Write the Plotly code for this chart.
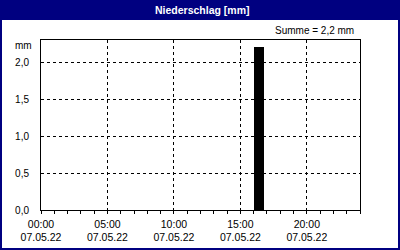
import plotly.graph_objects as go

# Data
bar_start = ["2022-05-07 16:00"]
bar_values = [2.2]
bar_width_ms = 45 * 60 * 1000
summe_text = "Summe = 2,2 mm"
title_text = "Niederschlag [mm]"
y_tickvals = [0.0, 0.5, 1.0, 1.5, 2.0]
y_ticktext = ["0,0", "0,5", "1,0", "1,5", "2,0"]
x_range = ["2022-05-07 00:00", "2022-05-08 00:00"]

W, H = 400, 250
L, R, T, B = 41, 40, 40, 40
pw, ph = W - L - R, H - T - B

def px(x):
    return (x - L) / pw

def py(y):
    return (H - B - y) / ph

NAVY = "#000080"
FONT = "Liberation Sans"

fig = go.Figure()
fig.add_trace(go.Bar(
    x=bar_start, y=bar_values, width=[bar_width_ms], offset=0,
    marker=dict(color="black", line=dict(width=0)),
    hoverinfo="skip",
))

shapes = [
    dict(type="rect", xref="paper", yref="paper", x0=px(0), x1=px(W), y0=py(0), y1=py(20),
         fillcolor=NAVY, line=dict(width=0), layer="above"),
    dict(type="rect", xref="paper", yref="paper", x0=px(0), x1=px(2), y0=py(0), y1=py(H),
         fillcolor=NAVY, line=dict(width=0), layer="above"),
    dict(type="rect", xref="paper", yref="paper", x0=px(W - 2), x1=px(W), y0=py(0), y1=py(H),
         fillcolor=NAVY, line=dict(width=0), layer="above"),
    dict(type="rect", xref="paper", yref="paper", x0=px(0), x1=px(W), y0=py(H - 2), y1=py(H),
         fillcolor=NAVY, line=dict(width=0), layer="above"),
]

annotations = [
    dict(text="<b>" + title_text + "</b>", xref="paper", yref="paper", x=px(202), y=py(10),
         xanchor="center", yanchor="middle", showarrow=False,
         font=dict(family=FONT, size=10.5, color="white")),
    dict(text=summe_text, xref="paper", yref="paper", x=px(356), y=py(30),
         xanchor="right", yanchor="middle", showarrow=False,
         font=dict(family=FONT, size=10, color="black")),
    dict(text="mm", xref="paper", yref="paper", x=px(33.5), y=py(45.5),
         xanchor="right", yanchor="middle", showarrow=False,
         font=dict(family=FONT, size=10, color="black")),
]

fig.update_layout(
    width=W, height=H,
    margin=dict(l=L, r=R, t=T, b=B, autoexpand=False),
    paper_bgcolor="white", plot_bgcolor="white",
    showlegend=False,
    shapes=shapes, annotations=annotations,
    bargap=0,
    font=dict(family=FONT, size=10, color="black"),
    xaxis=dict(
        type="date", range=x_range, automargin=False,
        tick0="2022-05-07 00:00", dtick=5 * 3600 * 1000,
        tickformat="%H:%M<br>%d.%m.%y",
        showgrid=True, gridcolor="black", griddash="3px,3px", gridwidth=1,
        showline=True, linecolor="black", linewidth=1, mirror=True,
        ticks="outside", ticklen=3, tickcolor="black",
        ticklabelstandoff=1,
        minor=dict(dtick=3600 * 1000, ticks="outside", ticklen=3, tickcolor="black", showgrid=False),
        zeroline=False, fixedrange=True,
        tickfont=dict(family=FONT, size=10.5),
    ),
    yaxis=dict(
        range=[0, 2.3], automargin=False,
        tickvals=y_tickvals, ticktext=y_ticktext,
        showgrid=True, gridcolor="black", griddash="3px,3px", gridwidth=1,
        showline=True, linecolor="black", linewidth=1, mirror=True,
        ticks="", ticklabelstandoff=9,
        zeroline=False, fixedrange=True,
        tickfont=dict(family=FONT, size=10),
    ),
)

fig.write_html("out.html", config={"displayModeBar": False})
